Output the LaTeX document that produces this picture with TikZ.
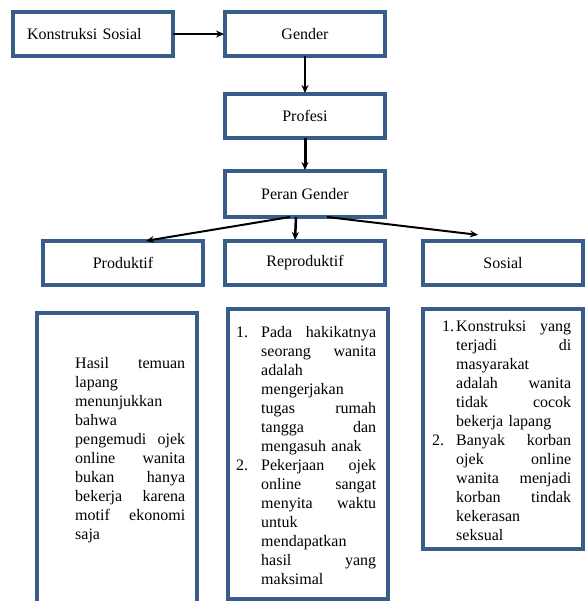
\documentclass[tikz,border=0pt]{standalone}
\usepackage{fontspec}
\setmainfont{Liberation Serif}
\usetikzlibrary{positioning,calc,arrows.meta}
\definecolor{boxblue}{RGB}{56,93,138}
% one justified line of two words
\newcommand{\jl}[2]{\leavevmode\hbox to\hsize{#1\hfill#2}}
% list number hung left of the text column
\newcommand{\nomor}[2]{\leavevmode\llap{#1\hspace{#2}}}

\begin{document}
\begin{tikzpicture}[x=1pt,y=1pt,>={Stealth[length=8pt,width=7pt]},shorten >=1pt,
	font=\fontsize{16}{19}\selectfont]

	\tikzstyle{kotak}=[rectangle, draw=boxblue, line width=3.5pt, fill=white,
	minimum width=160pt, minimum height=44pt, inner sep=2pt, outer sep=0pt, text=black]
	\tikzstyle{isi}=[inner sep=0pt, align=left, anchor=west]

	\useasboundingbox (0,0) rectangle (587,-601);
	\clip (0,0) rectangle (587,-601);

	%top chain
	\node[kotak] (gender) at (305,-34) {Gender};
	\node[kotak, text width=132pt, align=left] (konstruksi) [left=52pt of gender] {Konstruksi Sosial};
	\node[kotak] (profesi) [below=38pt of gender] {Profesi};
	\node[kotak, minimum height=46pt] (peran) [below=33pt of profesi] {Peran Gender};

	%three roles
	\node[kotak] (reproduktif) [below=24pt of peran] {Reproduktif};
	\node[kotak] (produktif) [left=22pt of reproduktif] {Produktif};
	\node[kotak] (sosial) [right=38pt of reproduktif] {Sosial};

	%detail boxes
	\node[kotak, minimum height=300pt] (hasil) [below=28pt of produktif, xshift=-6pt] {};
	\node[kotak, minimum height=290pt] (reprodet) [below=24pt of reproduktif, xshift=3pt] {};
	\node[kotak, minimum height=240pt] (sosdet) [below=24pt of sosial] {};

	\node[isi, text width=110pt] (hasilteks) at ($(hasil.west)+(38,13)$) {%
		\jl{Hasil}{temuan}\\
		lapang\\
		menunjukkan\\
		bahwa\\
		\jl{pengemudi}{ojek}\\
		\jl{online}{wanita}\\
		\jl{bukan}{hanya}\\
		\jl{bekerja}{karena}\\
		\jl{motif}{ekonomi}\\
		saja};

	\node[isi, text width=115pt] (reproteks) at ($(reprodet.west)+(33,-2)$) {%
		\nomor{1.}{13pt}\jl{Pada}{hakikatnya}\\
		\jl{seorang}{wanita}\\
		adalah\\
		mengerjakan\\
		\jl{tugas}{rumah}\\
		\jl{tangga}{dan}\\
		mengasuh anak\\
		\nomor{2.}{13pt}\jl{Pekerjaan}{ojek}\\
		\jl{online}{sangat}\\
		\jl{menyita}{waktu}\\
		untuk\\
		mendapatkan\\
		\jl{hasil}{yang}\\
		maksimal};

	\node[isi, text width=115pt] (sosteks) at ($(sosdet.west)+(33,-2)$) {%
		\nomor{1.}{2pt}\jl{Konstruksi}{yang}\\
		\jl{terjadi}{di}\\
		masyarakat\\
		\jl{adalah}{wanita}\\
		\jl{tidak}{cocok}\\
		bekerja lapang\\
		\nomor{2.}{12pt}\jl{Banyak}{korban}\\
		\jl{ojek}{online}\\
		\jl{wanita}{menjadi}\\
		\jl{korban}{tindak}\\
		kekerasan\\
		seksual};

	\draw[->, line width=2pt] (konstruksi.east) -- (konstruksi.east -| gender.west);
	\draw[->, line width=1.5pt] (gender) -- (profesi);
	\draw[->, line width=3pt] (profesi) -- (peran);

	\draw[->, line width=2pt] ($(peran.south)+(-15,0)$) -- ($(produktif.north)+(22,0)$);
	\draw[->, line width=2.5pt] ($(peran.south)+(-9,0)$) -- ($(reproduktif.north)+(-10,0)$);
	\draw[->, line width=2pt] ($(peran.south)+(22,0)$) -- ($(sosial.north)+(-24,6)$);

\end{tikzpicture}
\end{document}
